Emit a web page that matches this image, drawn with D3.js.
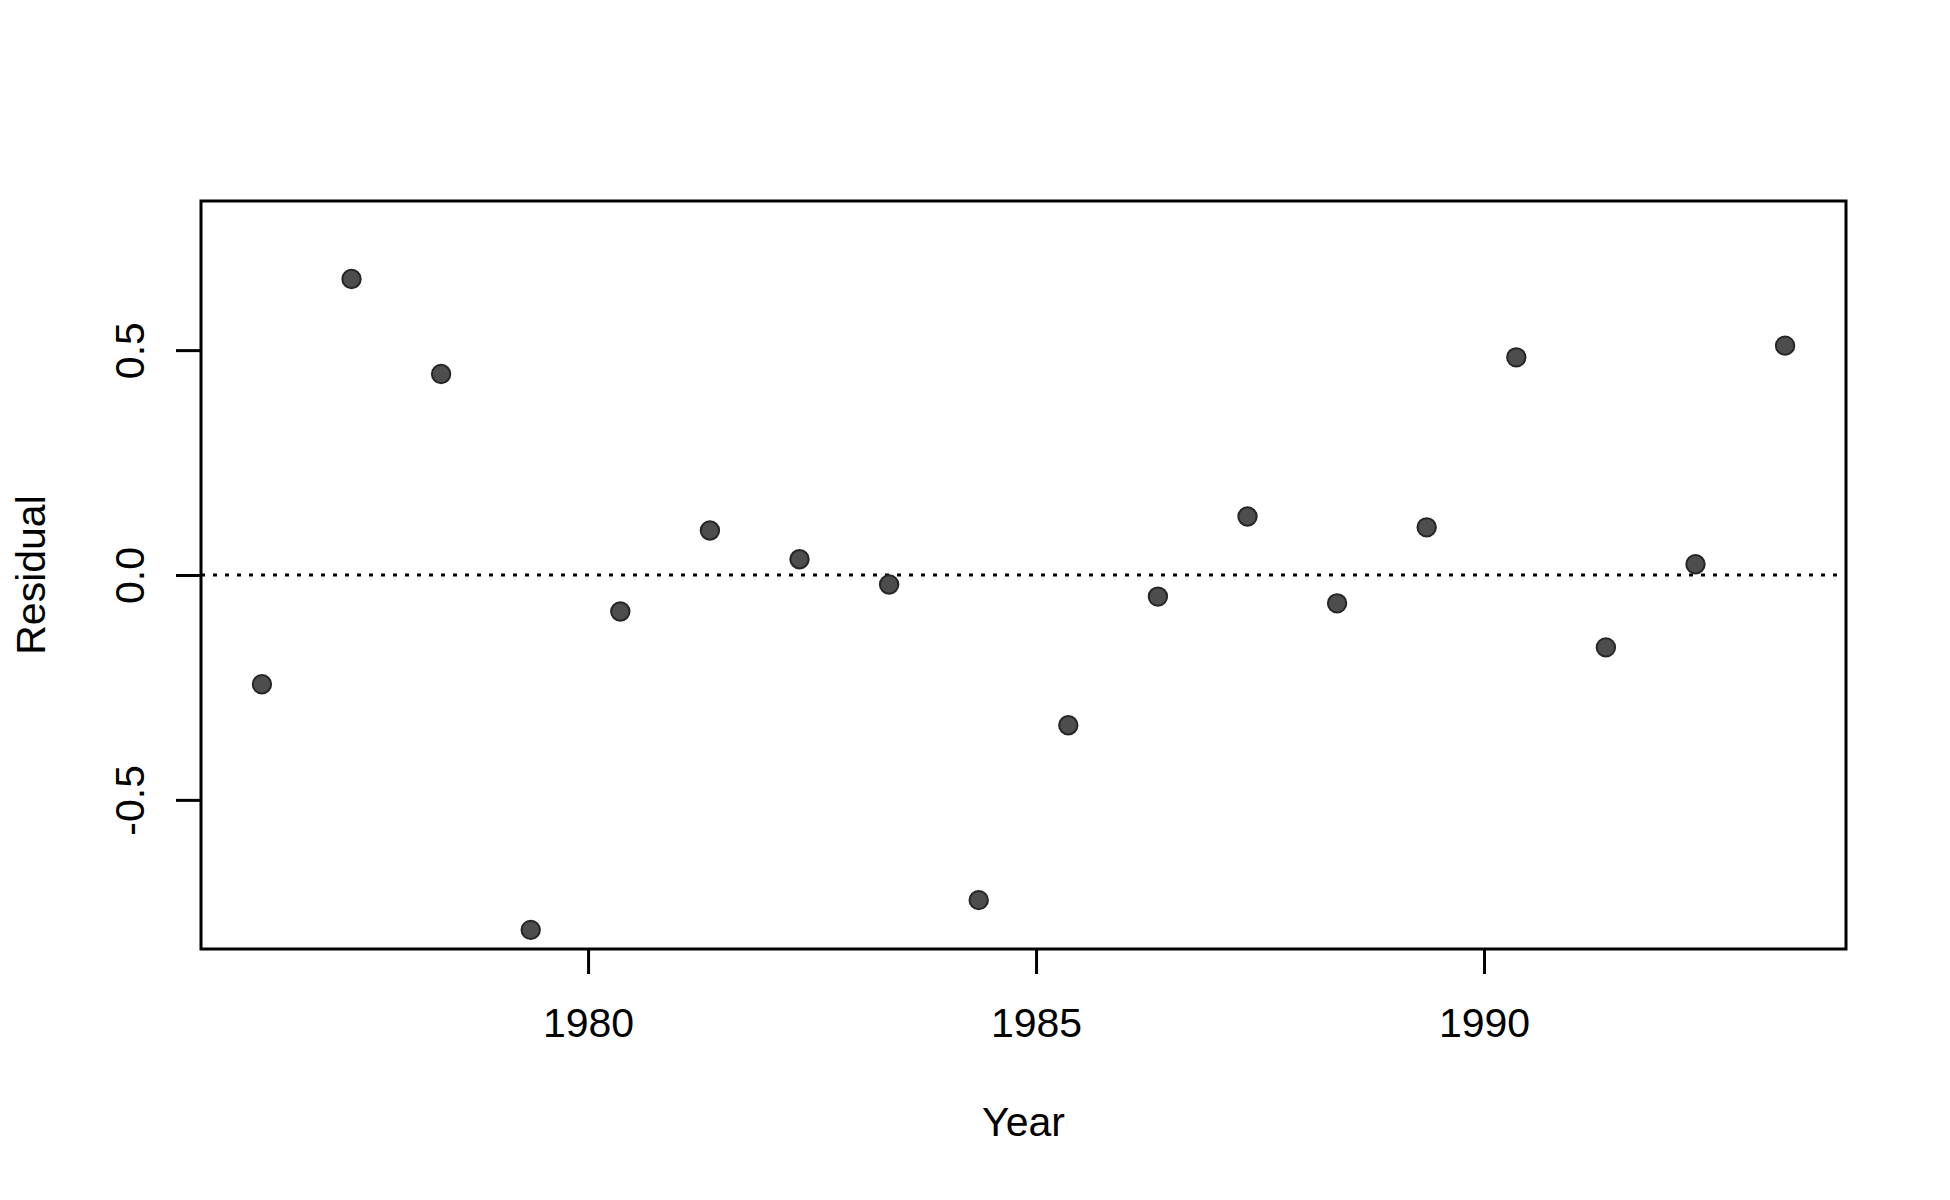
<!DOCTYPE html>
<meta charset="utf-8">
<script src="https://d3js.org/d3.v7.min.js"></script>
<style>
  body { margin: 0; background: #fff; }
  text { font-family: "Liberation Sans", Arial, sans-serif; fill: #000; }
</style>
<div id="chart"></div>
<script>
  // residuals by year
  const years = [1976.36, 1977.36, 1978.36, 1979.36, 1980.36, 1981.36, 1982.36, 1983.36, 1984.36,
                 1985.36, 1986.36, 1987.36, 1988.36, 1989.36, 1990.36, 1991.36, 1992.36, 1993.36];
  const residuals = [-0.243, 0.658, 0.447, -0.789, -0.081, 0.099, 0.035, -0.021, -0.723,
                     -0.334, -0.048, 0.130, -0.063, 0.106, 0.484, -0.161, 0.024, 0.510];
  const xTicks = [1980, 1985, 1990];
  const yTicks = [-0.5, 0.0, 0.5];
  const yLimits = [-0.77, 0.77];

  const width = 1950, height = 1200;
  const margin = { top: 201, right: 104, bottom: 251, left: 201 };

  const svg = d3.select("#chart")
    .append("svg")
    .attr("width", width)
    .attr("height", height);

  // R-style 4% padding on both axes
  const pad = (lo, hi) => [lo - 0.04 * (hi - lo), hi + 0.04 * (hi - lo)];

  const x = d3.scaleLinear()
    .domain(pad(d3.min(years), d3.max(years)))
    .range([margin.left, width - margin.right]);

  const y = d3.scaleLinear()
    .domain(pad(yLimits[0], yLimits[1]))
    .range([height - margin.bottom, margin.top]);

  // zero reference line, dotted
  svg.append("line")
    .attr("x1", x.range()[0])
    .attr("x2", x.range()[1])
    .attr("y1", y(0))
    .attr("y2", y(0))
    .attr("stroke", "#000")
    .attr("stroke-width", 2.8)
    .attr("stroke-dasharray", "4,8");

  // x axis
  const xAxis = svg.append("g")
    .attr("transform", `translate(0,${height - margin.bottom})`)
    .call(d3.axisBottom(x).tickValues(xTicks).tickFormat(d3.format("d")).tickSize(25));
  xAxis.select(".domain").remove();
  xAxis.selectAll(".tick line").attr("stroke-width", 3);
  xAxis.selectAll(".tick text")
    .attr("y", 88)
    .attr("dy", 0)
    .attr("font-size", 41)
    .attr("font-family", null);

  // y axis, labels turned like base R
  const yAxis = svg.append("g")
    .attr("transform", `translate(${margin.left},0)`)
    .call(d3.axisLeft(y).tickValues(yTicks).tickFormat(d3.format(".1f")).tickSize(25));
  yAxis.select(".domain").remove();
  yAxis.selectAll(".tick line").attr("stroke-width", 3);
  yAxis.selectAll(".tick text")
    .attr("x", 0)
    .attr("dy", 0)
    .attr("transform", "translate(-57,0) rotate(-90)")
    .attr("text-anchor", "middle")
    .attr("font-size", 41)
    .attr("font-family", null)
    .text(d => d3.format(".1f")(d).replace("−", "-"));

  // box around the plot region
  svg.append("rect")
    .attr("x", margin.left)
    .attr("y", margin.top)
    .attr("width", width - margin.left - margin.right)
    .attr("height", height - margin.top - margin.bottom)
    .attr("fill", "none")
    .attr("stroke", "#000")
    .attr("stroke-width", 3);

  // points
  svg.append("g")
    .selectAll("circle")
    .data(years.map((yr, i) => [yr, residuals[i]]))
    .join("circle")
    .attr("cx", d => x(d[0]))
    .attr("cy", d => y(d[1]))
    .attr("r", 9.2)
    .attr("fill", "#4d4d4d")
    .attr("stroke", "#262626")
    .attr("stroke-width", 2);

  // axis titles
  svg.append("text")
    .attr("x", (x.range()[0] + x.range()[1]) / 2)
    .attr("y", 1136)
    .attr("text-anchor", "middle")
    .attr("font-size", 41)
    .text("Year");

  svg.append("text")
    .attr("transform", `translate(45,${(y.range()[0] + y.range()[1]) / 2}) rotate(-90)`)
    .attr("text-anchor", "middle")
    .attr("font-size", 41)
    .text("Residual");
</script>
